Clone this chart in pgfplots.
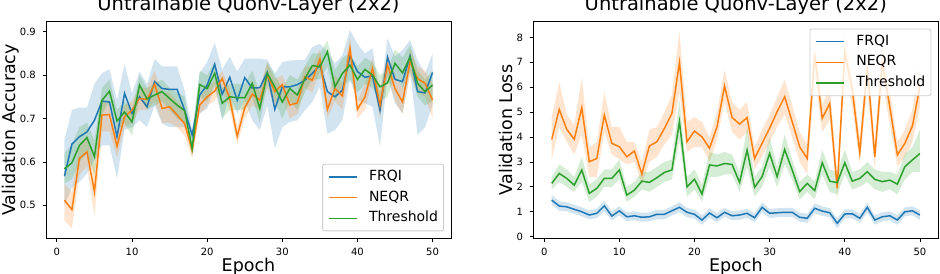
\documentclass[border=0pt]{standalone}
\usepackage{fontspec}
\setmainfont{DejaVu Sans}
\usepackage{pgfplots}
\usepackage{pgfplotstable}
\pgfplotsset{compat=1.18}
\usepgfplotslibrary{fillbetween}
\definecolor{cb}{HTML}{1F77B4}
\definecolor{co}{HTML}{FF7F0E}
\definecolor{cg}{HTML}{2CA02C}
\definecolor{legframe}{HTML}{CCCCCC}

\pgfplotstableread{
e fm fl fh nm nl nh tm tl th
1 0.567 0.500 0.650 0.512 0.465 0.550 0.584 0.550 0.620
2 0.641 0.540 0.720 0.490 0.446 0.530 0.598 0.560 0.640
3 0.658 0.554 0.725 0.608 0.570 0.640 0.638 0.600 0.680
4 0.669 0.573 0.725 0.623 0.590 0.660 0.656 0.620 0.690
5 0.696 0.604 0.780 0.531 0.475 0.590 0.612 0.570 0.650
6 0.740 0.638 0.804 0.708 0.670 0.740 0.742 0.710 0.770
7 0.738 0.638 0.814 0.709 0.670 0.740 0.763 0.740 0.790
8 0.658 0.562 0.742 0.636 0.610 0.660 0.694 0.670 0.720
9 0.758 0.673 0.825 0.704 0.680 0.730 0.715 0.690 0.740
10 0.712 0.680 0.758 0.719 0.690 0.740 0.692 0.660 0.720
11 0.750 0.696 0.808 0.746 0.720 0.770 0.777 0.750 0.800
12 0.727 0.680 0.780 0.744 0.720 0.770 0.745 0.720 0.770
13 0.785 0.730 0.837 0.779 0.740 0.810 0.754 0.730 0.780
14 0.769 0.688 0.820 0.723 0.690 0.760 0.762 0.740 0.790
15 0.767 0.680 0.820 0.727 0.690 0.760 0.746 0.720 0.770
16 0.767 0.680 0.820 0.708 0.680 0.740 0.731 0.700 0.760
17 0.719 0.680 0.765 0.688 0.660 0.720 0.718 0.690 0.750
18 0.662 0.650 0.673 0.627 0.610 0.645 0.631 0.610 0.655
19 0.754 0.712 0.805 0.731 0.710 0.750 0.778 0.750 0.810
20 0.777 0.723 0.830 0.750 0.730 0.770 0.769 0.740 0.800
21 0.825 0.773 0.875 0.763 0.740 0.785 0.804 0.780 0.830
22 0.756 0.696 0.813 0.792 0.770 0.810 0.735 0.700 0.770
23 0.795 0.752 0.842 0.746 0.720 0.770 0.750 0.720 0.780
24 0.742 0.712 0.808 0.659 0.640 0.680 0.748 0.720 0.780
25 0.794 0.742 0.838 0.725 0.700 0.750 0.748 0.720 0.780
26 0.770 0.696 0.838 0.756 0.730 0.780 0.781 0.750 0.810
27 0.771 0.673 0.838 0.742 0.720 0.770 0.723 0.690 0.760
28 0.806 0.730 0.835 0.800 0.770 0.830 0.804 0.780 0.830
29 0.721 0.631 0.804 0.762 0.730 0.790 0.773 0.740 0.800
30 0.773 0.680 0.830 0.778 0.750 0.800 0.738 0.700 0.770
31 0.773 0.692 0.833 0.731 0.700 0.760 0.769 0.740 0.800
32 0.778 0.696 0.835 0.736 0.710 0.760 0.754 0.720 0.790
33 0.788 0.719 0.835 0.796 0.770 0.820 0.792 0.760 0.820
34 0.804 0.738 0.865 0.788 0.760 0.820 0.822 0.790 0.850
35 0.823 0.773 0.872 0.837 0.810 0.860 0.819 0.790 0.850
36 0.762 0.665 0.854 0.721 0.700 0.750 0.854 0.820 0.880
37 0.750 0.673 0.827 0.769 0.740 0.800 0.773 0.740 0.810
38 0.765 0.696 0.846 0.752 0.720 0.780 0.804 0.770 0.840
39 0.844 0.788 0.904 0.862 0.830 0.890 0.823 0.790 0.850
40 0.808 0.742 0.872 0.721 0.700 0.740 0.790 0.760 0.820
41 0.795 0.735 0.850 0.750 0.720 0.780 0.813 0.780 0.840
42 0.798 0.727 0.862 0.815 0.790 0.840 0.800 0.770 0.830
43 0.719 0.635 0.754 0.731 0.700 0.760 0.773 0.740 0.800
44 0.841 0.796 0.885 0.823 0.800 0.850 0.782 0.750 0.810
45 0.790 0.735 0.842 0.769 0.740 0.800 0.827 0.800 0.860
46 0.785 0.712 0.858 0.738 0.710 0.770 0.805 0.770 0.840
47 0.844 0.808 0.881 0.831 0.800 0.860 0.841 0.810 0.870
48 0.762 0.662 0.835 0.792 0.760 0.820 0.781 0.750 0.810
49 0.759 0.680 0.804 0.781 0.750 0.810 0.762 0.730 0.790
50 0.806 0.731 0.850 0.742 0.700 0.780 0.777 0.740 0.810
}\acc

\pgfplotstableread{
e fm fl fh nm nl nh tm tl th
1 1.47 1.28 1.68 3.90 3.10 4.80 2.14 1.90 2.40
2 1.23 1.05 1.42 5.11 4.40 6.20 2.54 2.20 2.90
3 1.20 1.02 1.38 4.31 3.80 4.90 2.34 2.00 2.70
4 1.10 0.92 1.28 3.91 3.30 4.50 2.07 1.80 2.40
5 1.00 0.82 1.18 5.18 4.10 6.40 2.68 2.20 3.20
6 0.87 0.70 1.05 3.01 2.40 3.60 1.74 1.40 2.10
7 0.94 0.75 1.12 3.14 2.40 3.80 1.94 1.60 2.30
8 1.24 1.02 1.45 4.88 4.20 5.80 2.34 2.00 2.70
9 0.83 0.65 1.02 3.75 3.30 4.40 2.34 2.00 2.70
10 1.04 0.85 1.22 3.61 3.10 4.40 2.68 2.30 3.10
11 0.80 0.62 0.98 3.21 2.90 3.80 1.67 1.40 2.00
12 0.84 0.66 1.02 3.44 3.00 3.80 1.87 1.60 2.20
13 0.78 0.60 0.96 2.52 2.10 3.00 2.23 1.90 2.60
14 0.80 0.62 0.98 3.64 3.00 4.30 2.18 1.80 2.60
15 0.90 0.70 1.08 3.81 3.20 4.40 2.37 2.00 2.80
16 0.90 0.70 1.08 4.35 3.70 5.00 2.58 2.20 3.00
17 1.04 0.85 1.22 4.95 4.10 5.70 2.68 2.30 3.10
18 1.18 0.98 1.38 7.00 5.80 8.25 4.62 3.90 5.50
19 0.98 0.78 1.16 3.81 3.40 4.60 2.00 1.60 2.40
20 0.90 0.72 1.08 4.24 3.60 4.80 2.31 1.90 2.70
21 0.67 0.48 0.86 4.01 3.60 4.60 1.71 1.40 2.10
22 0.95 0.76 1.14 3.55 3.00 4.00 2.88 2.40 3.40
23 0.76 0.58 0.94 4.41 3.90 5.00 2.84 2.40 3.30
24 0.98 0.80 1.16 6.05 5.40 6.70 2.94 2.50 3.40
25 0.84 0.66 1.02 4.79 4.20 5.40 2.90 2.50 3.30
26 0.87 0.68 1.05 4.52 3.90 5.10 2.18 1.80 2.60
27 0.94 0.75 1.12 4.78 4.20 5.40 3.48 2.80 4.40
28 0.76 0.58 0.94 3.14 2.70 3.60 1.98 1.60 2.40
29 1.18 0.98 1.38 3.75 3.20 4.30 2.41 2.00 2.80
30 0.94 0.75 1.12 4.35 3.80 4.90 3.34 2.80 4.00
31 0.96 0.78 1.14 5.02 4.40 5.60 2.41 2.00 2.80
32 0.98 0.80 1.16 5.62 4.90 6.30 3.50 2.90 4.10
33 0.98 0.80 1.16 4.62 4.00 5.30 2.68 2.30 3.10
34 0.78 0.60 0.96 3.61 3.00 4.20 1.81 1.50 2.20
35 0.74 0.56 0.92 3.14 2.50 3.70 2.14 1.80 2.50
36 1.14 0.94 1.34 7.30 6.40 8.10 1.85 1.50 2.20
37 1.03 0.84 1.22 4.75 4.20 5.30 2.97 2.50 3.50
38 0.96 0.78 1.14 5.35 4.70 6.00 2.23 1.80 2.70
39 0.54 0.34 0.74 1.94 1.50 2.50 2.17 1.70 2.60
40 0.91 0.72 1.10 7.40 6.60 8.10 2.97 2.50 3.50
41 0.92 0.74 1.10 5.90 5.20 6.60 2.23 1.90 2.60
42 0.74 0.56 0.92 3.38 2.90 3.90 2.34 2.00 2.70
43 1.18 0.98 1.38 6.80 6.00 7.50 2.61 2.20 3.00
44 0.67 0.48 0.86 3.21 2.70 3.70 2.30 1.90 2.70
45 0.80 0.62 0.98 7.00 6.20 7.80 2.21 1.80 2.60
46 0.84 0.66 1.02 5.20 4.50 5.90 2.27 1.90 2.60
47 0.67 0.48 0.86 3.28 2.80 3.80 2.11 1.70 2.50
48 1.00 0.82 1.18 3.75 3.20 4.30 2.81 2.30 3.30
49 1.04 0.86 1.22 4.44 3.80 5.10 3.08 2.60 3.60
50 0.87 0.68 1.06 6.02 5.20 6.90 3.34 2.60 4.30
}\loss

\pgfplotsset{
  myaxis/.style={
    scale only axis, width=405bp, height=216.6bp,
    xmin=-1.45, xmax=52.45, xtick={0,10,20,30,40,50},
    tick align=outside, tickpos=left, major tick length=3.5bp,
    every tick/.style={black, line width=0.8bp},
    axis line style={line width=0.8bp},
    ticklabel style={font=\fontsize{10bp}{12bp}\selectfont},
    /pgf/number format/assume math mode=true,
    xticklabel style={anchor=north, inner sep=0pt, yshift=-6.5bp},
    yticklabel style={anchor=east, inner sep=0pt, xshift=-6.5bp},
    title style={font=\fontsize{19.5bp}{23bp}\selectfont, at={(axis description cs:0.5,1)}, anchor=base, yshift=5bp, inner sep=0pt},
    xlabel style={font=\fontsize{17.5bp}{20bp}\selectfont, at={(axis description cs:0.5,-0.155)}, anchor=base, inner sep=0pt},
    legend cell align=left,
    legend image code/.code={\draw[##1, line width=1.6bp] (0bp,0bp) -- (28bp,0bp);},
    legend style={draw=legframe, line width=0.8bp, rounded corners=2bp, fill=white, fill opacity=0.8, text opacity=1, draw opacity=1,
      font=\fontsize{14bp}{16bp}\selectfont, inner xsep=5.6bp, inner ysep=5.6bp, row sep=7bp,
      nodes={inner sep=0pt, text height=10.5bp, text depth=3.3bp},
      /tikz/every odd column/.append style={column sep=11.2bp}},
  },
  mainline/.style={line width=1.5bp},
}

\begin{document}
\begin{tikzpicture}
\begin{axis}[myaxis, at={(46bp,35.7bp)}, anchor=south west,
  ymin=0.424, ymax=0.923, ytick={0.5,0.6,0.7,0.8,0.9},
  yticklabel style={/pgf/number format/fixed, /pgf/number format/precision=1, /pgf/number format/fixed zerofill},
  title={Untrainable Quonv-Layer (2x2)}, xlabel={Epoch}, ylabel={Validation Accuracy},
  ylabel style={font=\fontsize{17.5bp}{20bp}\selectfont, at={(axis description cs:-0.0741,0.5)}, anchor=base, inner sep=0pt},
  legend style={at={(1,0)}, anchor=south east, xshift=-7bp, yshift=7bp}]
\addplot[draw=none, name path=afh, forget plot] table[x=e,y=fh]{\acc};
\addplot[draw=none, name path=afl, forget plot] table[x=e,y=fl]{\acc};
\addplot[fill=cb, fill opacity=0.2, draw=none, forget plot] fill between[of=afh and afl];
\addplot[cb, mainline] table[x=e,y=fm]{\acc};
\addlegendentry{FRQI}
\addplot[draw=none, name path=anh, forget plot] table[x=e,y=nh]{\acc};
\addplot[draw=none, name path=anl, forget plot] table[x=e,y=nl]{\acc};
\addplot[fill=co, fill opacity=0.2, draw=none, forget plot] fill between[of=anh and anl];
\addplot[co, mainline] table[x=e,y=nm]{\acc};
\addlegendentry{NEQR}
\addplot[draw=none, name path=ath, forget plot] table[x=e,y=th]{\acc};
\addplot[draw=none, name path=atl, forget plot] table[x=e,y=tl]{\acc};
\addplot[fill=cg, fill opacity=0.2, draw=none, forget plot] fill between[of=ath and atl];
\addplot[cg, mainline] table[x=e,y=tm]{\acc};
\addlegendentry{Threshold}
\end{axis}
\begin{axis}[myaxis, at={(533.3bp,35.7bp)}, anchor=south west,
  ymin=-0.064, ymax=8.63, ytick={0,1,2,3,4,5,6,7,8},
  title={Untrainable Quonv-Layer (2x2)}, xlabel={Epoch}, ylabel={Validation Loss},
  ylabel style={font=\fontsize{17.5bp}{20bp}\selectfont, at={(axis description cs:-0.0509,0.5)}, anchor=base, inner sep=0pt},
  legend style={at={(1,1)}, anchor=north east, xshift=-7bp, yshift=-7bp}]
\addplot[draw=none, name path=lfh, forget plot] table[x=e,y=fh]{\loss};
\addplot[draw=none, name path=lfl, forget plot] table[x=e,y=fl]{\loss};
\addplot[fill=cb, fill opacity=0.2, draw=none, forget plot] fill between[of=lfh and lfl];
\addplot[cb, mainline] table[x=e,y=fm]{\loss};
\addlegendentry{FRQI}
\addplot[draw=none, name path=lnh, forget plot] table[x=e,y=nh]{\loss};
\addplot[draw=none, name path=lnl, forget plot] table[x=e,y=nl]{\loss};
\addplot[fill=co, fill opacity=0.2, draw=none, forget plot] fill between[of=lnh and lnl];
\addplot[co, mainline] table[x=e,y=nm]{\loss};
\addlegendentry{NEQR}
\addplot[draw=none, name path=lth, forget plot] table[x=e,y=th]{\loss};
\addplot[draw=none, name path=ltl, forget plot] table[x=e,y=tl]{\loss};
\addplot[fill=cg, fill opacity=0.2, draw=none, forget plot] fill between[of=lth and ltl];
\addplot[cg, mainline] table[x=e,y=tm]{\loss};
\addlegendentry{Threshold}
\end{axis}
\pgfresetboundingbox
\path[use as bounding box] (0bp,0bp) rectangle (940bp,274bp);
\end{tikzpicture}
\end{document}
